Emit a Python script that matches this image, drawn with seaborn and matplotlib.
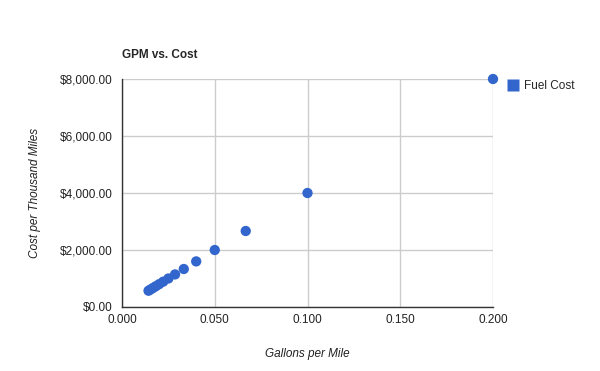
import numpy as np
import pandas as pd
import matplotlib
matplotlib.use("Agg")
import matplotlib.pyplot as plt
import seaborn as sns
from matplotlib.ticker import FuncFormatter
from matplotlib.lines import Line2D

gallons_per_mile = [0.2, 0.1, 0.0667, 0.05, 0.04, 0.0333, 0.0286, 0.025,
                    0.0222, 0.02, 0.0182, 0.0167, 0.0154, 0.0143]
fuel_cost = [8000, 4000, 2667, 2000, 1600, 1333, 1143, 1000,
             889, 800, 727, 667, 615, 571]
x_ticks = [0.0, 0.05, 0.1, 0.15, 0.2]
y_ticks = [0, 2000, 4000, 6000, 8000]

df = pd.DataFrame({"gpm": gallons_per_mile, "cost": fuel_cost})

sns.set_style("white")
plt.rcParams['font.family'] = ['Liberation Sans', 'DejaVu Sans']

fig = plt.figure(figsize=(6, 3.71), dpi=100)
ax = fig.add_axes([122/600, 64/371, 371/600, 228/371])

sns.scatterplot(data=df, x="gpm", y="cost", ax=ax, color="#3366CC",
                s=55, edgecolor="none", clip_on=False, zorder=3, legend=False)

ax.set_xlim(0, 0.2)
ax.set_ylim(0, 8000)
ax.set_xticks(x_ticks)
ax.set_yticks(y_ticks)
ax.xaxis.set_major_formatter(FuncFormatter(lambda v, p: f"{v:.3f}"))
ax.yaxis.set_major_formatter(FuncFormatter(lambda v, p: f"${v:,.2f}"))
ax.grid(True, color="#cccccc", linewidth=1)
ax.set_axisbelow(True)
for s in ["top", "right"]:
    ax.spines[s].set_visible(False)
for s in ["left", "bottom"]:
    ax.spines[s].set_color("#333333")
    ax.spines[s].set_linewidth(1)
    ax.spines[s].set_zorder(2)
ax.tick_params(axis="x", length=0, labelsize=8.5, colors="#222222", pad=5)
ax.tick_params(axis="y", length=0, labelsize=8.5, colors="#222222", pad=7)

ax.set_xlabel("Gallons per Mile", fontsize=8.5, style="italic", color="#222222", labelpad=16)
ax.set_ylabel("Cost per Thousand Miles", fontsize=8.5, style="italic", color="#222222", labelpad=13)
ax.set_title("GPM vs. Cost", fontsize=8.5, fontweight="bold", loc="left", pad=15)

handle = Line2D([], [], marker="s", linestyle="none", markersize=8.5,
                markerfacecolor="#3366CC", markeredgecolor="none")
ax.legend([handle], ["Fuel Cost"], loc="upper left", bbox_to_anchor=(1.025, 1.015),
          frameon=False, fontsize=8.5, handletextpad=0.4, borderaxespad=0,
          handlelength=1.0)

fig.savefig("out.png", dpi=100)
